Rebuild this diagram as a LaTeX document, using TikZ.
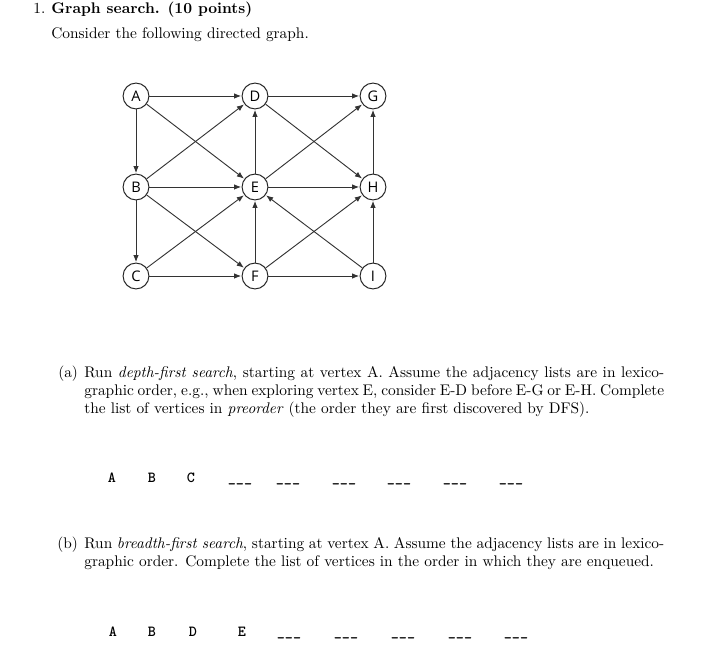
\documentclass[tikz,border=0pt]{standalone}
\usepackage{fontspec}
\newfontfamily\vertexfont{Open Sans}
\usetikzlibrary{arrows.meta}
\newcommand{\blank}{\_\_\_}

\begin{document}
\begin{tikzpicture}[x=0.65pt,y=-0.65pt,
			vertex/.style={circle,draw=black!85,line width=0.65pt,fill=white,minimum size=16.8pt,inner sep=0pt,font=\vertexfont\fontsize{9.5}{10}\selectfont},
			edge/.style={draw=black!80,line width=0.6pt,-{Latex[length=4.6pt,width=3.6pt]},shorten >=0.3pt},
			txt/.style={anchor=base west,inner sep=0pt,font=\fontsize{10}{12}\selectfont},
			para/.style={txt,text width=377pt,align=justify},
			entry/.style={anchor=base,inner sep=0pt,font=\ttfamily\bfseries\fontsize{10}{12}\selectfont}
			]
			\useasboundingbox (0,0) rectangle (726,672);
			
			%% Heading
			\node[txt] (num) at (33,14) {1.};
			\node[txt] (title) at (51,14) {\textbf{Graph search. (10 points)}};
			\node[txt] (intro) at (51,39) {Consider the following directed graph.};
			
			%% Graph
			\node[vertex] (A) at (136,96) {A};
			\node[vertex] (D) at (255,96) {D};
			\node[vertex] (G) at (373,96) {G};
			\node[vertex] (B) at (136,187) {B};
			\node[vertex] (E) at (255,187) {E};
			\node[vertex] (H) at (373,187) {H};
			\node[vertex] (C) at (136,276) {C};
			\node[vertex] (F) at (255,276) {F};
			\node[vertex] (I) at (373,276) {I};
			
			\foreach \from/\to in {A/D,A/B,A/E,B/D,B/E,B/C,B/F,C/E,C/F,D/G,D/H,
				E/D,E/G,E/H,F/E,F/H,F/I,H/G,I/E,I/H}
				\draw[edge] (\from) -- (\to);
			
			%% Part (a)
			\node[txt] (alabel) at (58,377) {(a)};
			\node[para] (atext) at (84,377) {Run \emph{depth-first search}, starting at vertex A. Assume the adjacency lists are in lexico-\linebreak graphic order, e.g., when exploring vertex E, consider E-D before E-G or E-H. Complete\linebreak the list of vertices in \emph{preorder} (the order they are first discovered by DFS).};
			
			\foreach \lbl/\xx [count=\k] in {A/112,B/152,C/191,\blank/240,\blank/288,\blank/344,\blank/399,\blank/455,\blank/511}
				\node[entry] (dfs\k) at (\xx,482) {\lbl};
			
			%% Part (b)
			\node[txt] (blabel) at (57,548) {(b)};
			\node[para] (btext) at (84,548) {Run \emph{breadth-first search}, starting at vertex A. Assume the adjacency lists are in lexico-\linebreak graphic order. Complete the list of vertices in the order in which they are enqueued.};
			
			\foreach \lbl/\xx [count=\k] in {A/113,B/152,D/193,E/242,\blank/289,\blank/346,\blank/403,\blank/460,\blank/516}
				\node[entry] (bfs\k) at (\xx,636) {\lbl};
			
\end{tikzpicture}
\end{document}
